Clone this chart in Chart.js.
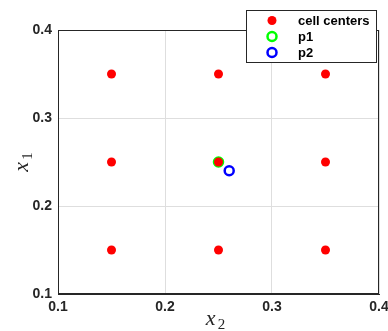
<!DOCTYPE html>
<html>
<head>
<meta charset="utf-8">
<script src="https://cdn.jsdelivr.net/npm/chart.js@4"></script>
<style>
  html, body { margin: 0; padding: 0; background: #fff; }
  #wrap { width: 388px; height: 331px; position: relative; }
</style>
</head>
<body>
<div id="wrap"><canvas id="c"></canvas></div>
<script>
// data
const cellX = [0.15, 0.15, 0.15, 0.25, 0.25, 0.25, 0.35, 0.35, 0.35];
const cellY = [0.15, 0.25, 0.35, 0.15, 0.25, 0.35, 0.15, 0.25, 0.35];
const p1X = [0.25];
const p1Y = [0.25];
const p2X = [0.26];
const p2Y = [0.24];
const seriesLabels = ["cell centers", "p1", "p2"];
const tickValues = [0.1, 0.2, 0.3, 0.4];
const xTitle = ["x", "2"];
const yTitle = ["x", "1"];

const toPts = (xs, ys) => xs.map((x, i) => ({ x: x, y: ys[i] }));

// box, axis titles and legend (drawn like matlab)
const extras = {
  id: "extras",
  afterDatasetsDraw(chart) {
    const ctx = chart.ctx;
    const a = chart.chartArea;
    ctx.save();
    ctx.strokeStyle = "#262626";
    ctx.lineWidth = 1;
    ctx.strokeRect(Math.round(a.left) + 0.5, Math.round(a.top) + 0.5,
      Math.round(a.right - a.left) - 1, Math.round(a.bottom - a.top) - 1);

    // axis titles
    ctx.fillStyle = "#262626";
    ctx.textBaseline = "alphabetic";
    const cx = (a.left + a.right) / 2;
    ctx.font = "italic 22px 'Liberation Serif'";
    const wx = ctx.measureText(xTitle[0]).width;
    ctx.font = "15px 'Liberation Serif'";
    const w2 = ctx.measureText(xTitle[1]).width;
    let sx = cx - (wx + w2 + 2) / 2 - 3;
    ctx.font = "italic 22px 'Liberation Serif'";
    ctx.fillText(xTitle[0], sx, 325);
    ctx.font = "15px 'Liberation Serif'";
    ctx.fillText(xTitle[1], sx + wx + 2, 329);

    const cy = (a.top + a.bottom) / 2;
    ctx.save();
    ctx.translate(28, cy);
    ctx.rotate(-Math.PI / 2);
    ctx.font = "italic 22px 'Liberation Serif'";
    const wy = ctx.measureText(yTitle[0]).width;
    ctx.font = "15px 'Liberation Serif'";
    const w1 = ctx.measureText(yTitle[1]).width;
    sx = -(wy + w1 + 2) / 2;
    ctx.font = "italic 22px 'Liberation Serif'";
    ctx.fillText(yTitle[0], sx, 0);
    ctx.font = "15px 'Liberation Serif'";
    ctx.fillText(yTitle[1], sx + wy + 2, 4);
    ctx.restore();

    // legend
    const lx = 246, ly = 10, lw = 130, lh = 52;
    ctx.fillStyle = "#fff";
    ctx.fillRect(lx, ly, lw, lh);
    ctx.strokeStyle = "#262626";
    ctx.strokeRect(lx + 0.5, ly + 0.5, lw, lh);
    ctx.font = "bold 13px 'Liberation Sans'";
    ctx.textBaseline = "middle";
    chart.data.datasets.forEach((ds, i) => {
      const y = ly + 10.5 + i * 16;
      ctx.beginPath();
      ctx.arc(lx + 26, y, ds.pointRadius, 0, Math.PI * 2);
      if (ds.pointBackgroundColor !== "transparent") {
        ctx.fillStyle = ds.pointBackgroundColor;
        ctx.fill();
      }
      if (ds.pointBorderWidth > 0) {
        ctx.lineWidth = ds.pointBorderWidth;
        ctx.strokeStyle = ds.pointBorderColor;
        ctx.stroke();
      }
      ctx.fillStyle = "#000";
      ctx.fillText(ds.label, lx + 52, y + 1);
    });
    ctx.restore();
  }
};

new Chart(document.getElementById("c"), {
  type: "scatter",
  data: {
    datasets: [
      {
        label: seriesLabels[0],
        data: toPts(cellX, cellY),
        pointRadius: 4.5,
        pointBackgroundColor: "#ff0000",
        pointBorderColor: "#ff0000",
        pointBorderWidth: 0
      },
      {
        label: seriesLabels[1],
        data: toPts(p1X, p1Y),
        pointRadius: 4.5,
        pointBackgroundColor: "transparent",
        pointBorderColor: "#00ff00",
        pointBorderWidth: 2.5
      },
      {
        label: seriesLabels[2],
        data: toPts(p2X, p2Y),
        pointRadius: 4.5,
        pointBackgroundColor: "transparent",
        pointBorderColor: "#0000ff",
        pointBorderWidth: 2.5
      }
    ]
  },
  options: {
    responsive: true,
    maintainAspectRatio: false,
    animation: false,
    layout: { padding: { left: 0, top: 30, right: 9, bottom: 0 } },
    plugins: { legend: { display: false }, tooltip: { enabled: false } },
    scales: {
      x: {
        type: "linear",
        min: 0.1,
        max: 0.4,
        afterBuildTicks: (s) => { s.ticks = tickValues.map((v) => ({ value: v })); },
        afterFit: (s) => { s.height = 37; s.paddingLeft = 0; s.paddingRight = 0; },
        grid: { color: "#dedede", drawTicks: false },
        border: { color: "#262626" },
        ticks: {
          padding: 5,
          color: "#262626",
          font: { family: "'Liberation Sans'", size: 14, weight: "bold" },
          callback: (v) => v.toFixed(1)
        }
      },
      y: {
        type: "linear",
        min: 0.1,
        max: 0.4,
        afterBuildTicks: (s) => { s.ticks = tickValues.map((v) => ({ value: v })); },
        afterFit: (s) => { s.width = 58; s.paddingTop = 0; s.paddingBottom = 0; },
        grid: { color: "#dedede", drawTicks: false },
        border: { color: "#262626" },
        ticks: {
          padding: 6,
          color: "#262626",
          font: { family: "'Liberation Sans'", size: 14, weight: "bold" },
          callback: (v) => v.toFixed(1)
        }
      }
    }
  },
  plugins: [extras]
});
</script>
</body>
</html>
